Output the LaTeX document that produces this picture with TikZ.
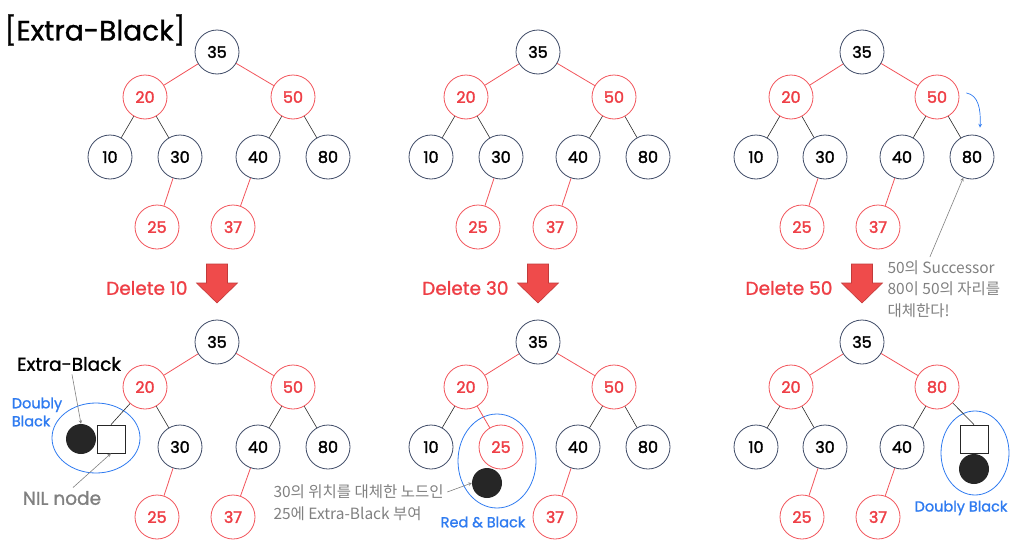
\documentclass[tikz,border=0pt]{standalone}
\usepackage{fontspec}
\setmainfont{Poppins}[FakeBold=1.2]
\newfontfamily\numfont{Poppins}[FakeBold=2]
\newfontfamily\krfont{Noto Sans CJK KR}
\usetikzlibrary{shapes.geometric}
\definecolor{navy}{HTML}{3E4A66}
\definecolor{nodered}{HTML}{F2545B}
\definecolor{txtred}{HTML}{EE3F46}
\definecolor{dblue}{HTML}{2F7BF0}
\definecolor{ngray}{HTML}{808080}
\definecolor{xblk}{HTML}{262626}
\definecolor{arrfill}{HTML}{EF4B4B}
\definecolor{arrdraw}{HTML}{C23A3A}

\begin{document}
\begin{tikzpicture}[x=1pt,y=-1pt,>=stealth,
    every node/.style={font=\fontsize{15.5}{18}\selectfont},
    bnode/.style={circle,draw=navy,line width=0.8pt,minimum size=44pt,inner sep=0pt,font=\numfont\fontsize{16}{18}\selectfont},
    rnode/.style={bnode,draw=nodered,text=txtred},
    nilnode/.style={rectangle,draw=xblk,line width=0.8pt,fill=white,minimum size=28pt,inner sep=0pt},
    xbnode/.style={circle,fill=xblk,minimum size=30pt,inner sep=0pt},
    dbl/.style={ellipse,draw=dblue,line width=0.8pt,inner sep=0pt},
    redge/.style={draw=nodered,line width=0.8pt},
    bedge/.style={draw=xblk,line width=0.6pt},
    bigarrow/.style={fill=arrfill,draw=arrdraw,line width=0.6pt},
    deltxt/.style={text=txtred,font=\fontsize{18.5}{20}\selectfont},
    bluetxt/.style={text=dblue,font=\fontsize{14.5}{18}\selectfont},
    note/.style={text=ngray,font=\krfont\fontsize{15.5}{21.5}\selectfont,align=left},
    grayarrow/.style={->,draw=ngray,line width=0.6pt}]
    \useasboundingbox (0,0) rectangle (1018,549);

    \node (title) at (95,30) {\fontsize{28}{30}\selectfont[Extra-Black]};

    % before delete
    \node[bnode] (a35) at (217,52) {35};
    \node[rnode] (a20) at (145,97) {20};
    \node[rnode] (a50) at (293,97) {50};
    \node[bnode] (a10) at (110,157) {10};
    \node[bnode] (a30) at (180,157) {30};
    \node[bnode] (a40) at (258,157) {40};
    \node[bnode] (a80) at (328,157) {80};
    \node[rnode] (a25) at (157,227) {25};
    \node[rnode] (a37) at (233,227) {37};

    \draw[redge] (a35)--(a20);
    \draw[redge] (a35)--(a50);
    \draw[bedge] (a20)--(a10);
    \draw[bedge] (a20)--(a30);
    \draw[bedge] (a50)--(a40);
    \draw[bedge] (a50)--(a80);
    \draw[redge] (a30)--(a25);
    \draw[redge] (a40)--(a37);

    \node[bnode] (b35) at (538,52) {35};
    \node[rnode] (b20) at (466,97) {20};
    \node[rnode] (b50) at (614,97) {50};
    \node[bnode] (b10) at (431,157) {10};
    \node[bnode] (b30) at (501,157) {30};
    \node[bnode] (b40) at (578,157) {40};
    \node[bnode] (b80) at (648,157) {80};
    \node[rnode] (b25) at (478,227) {25};
    \node[rnode] (b37) at (555,227) {37};

    \draw[redge] (b35)--(b20);
    \draw[redge] (b35)--(b50);
    \draw[bedge] (b20)--(b10);
    \draw[bedge] (b20)--(b30);
    \draw[bedge] (b50)--(b40);
    \draw[bedge] (b50)--(b80);
    \draw[redge] (b30)--(b25);
    \draw[redge] (b40)--(b37);

    \node[bnode] (c35) at (862,52) {35};
    \node[rnode] (c20) at (791,97) {20};
    \node[rnode] (c50) at (937,97) {50};
    \node[bnode] (c10) at (756,157) {10};
    \node[bnode] (c30) at (825,157) {30};
    \node[bnode] (c40) at (902,157) {40};
    \node[bnode] (c80) at (972,157) {80};
    \node[rnode] (c25) at (802,227) {25};
    \node[rnode] (c37) at (878,227) {37};

    \draw[redge] (c35)--(c20);
    \draw[redge] (c35)--(c50);
    \draw[bedge] (c20)--(c10);
    \draw[bedge] (c20)--(c30);
    \draw[bedge] (c50)--(c40);
    \draw[bedge] (c50)--(c80);
    \draw[redge] (c30)--(c25);
    \draw[redge] (c40)--(c37);

    \draw[->,draw=dblue,line width=0.7pt] ([xshift=7pt,yshift=4pt]c50.east) .. controls +(12,2) and +(1,-18) .. ([xshift=8pt,yshift=7pt]c80.north);
    \node[note,anchor=north west] (succ) at (884,257) {50의 Successor\\80이 50의 자리를\\대체한다!};
    \draw[grayarrow] ([xshift=-14pt]succ.north) -- (c80);

    % delete arrows
    \node[deltxt,anchor=east] (del1) at (191,288) {Delete 10};
    \node[deltxt,anchor=east] (del2) at (512,288) {Delete 30};
    \node[deltxt,anchor=east] (del3) at (836,288) {Delete 50};
    \draw[bigarrow,shift={(217,264)}] (-10.5,0) -- (10.5,0) -- (10.5,19) -- (20.5,19) -- (0,39) -- (-20.5,19) -- (-10.5,19) -- cycle;
    \draw[bigarrow,shift={(538,264)}] (-10.5,0) -- (10.5,0) -- (10.5,19) -- (20.5,19) -- (0,39) -- (-20.5,19) -- (-10.5,19) -- cycle;
    \draw[bigarrow,shift={(862,264)}] (-10.5,0) -- (10.5,0) -- (10.5,19) -- (20.5,19) -- (0,39) -- (-20.5,19) -- (-10.5,19) -- cycle;

    % after delete 10
    \node[dbl,minimum width=88pt,minimum height=70pt] (dring) at (96,438) {};
    \node[bnode] (d35) at (217,342) {35};
    \node[rnode] (d20) at (145,387) {20};
    \node[rnode] (d50) at (293,387) {50};
    \node[nilnode] (dnil) at (111,439) {};
    \node[xbnode] (dxb) at (81,439) {};
    \node[bnode] (d30) at (180,447) {30};
    \node[bnode] (d40) at (258,447) {40};
    \node[bnode] (d80) at (328,447) {80};
    \node[rnode] (d25) at (157,517) {25};
    \node[rnode] (d37) at (233,517) {37};

    \draw[redge] (d35)--(d20);
    \draw[redge] (d35)--(d50);
    \draw[bedge] (d20)--(dnil.north);
    \draw[bedge] (d20)--(d30);
    \draw[bedge] (d50)--(d40);
    \draw[bedge] (d50)--(d80);
    \draw[redge] (d30)--(d25);
    \draw[redge] (d40)--(d37);

    \node (xblbl) at (69,364) {\fontsize{18.5}{20}\selectfont Extra-Black};
    \node[bluetxt,align=left] (dbllbl) at (37,412) {Doubly\\Black};
    \node[text=ngray] (nillbl) at (62,498) {\fontsize{18.5}{20}\selectfont NIL node};
    \draw[grayarrow] ([xshift=3pt]xblbl.south) -- (dxb.north);
    \draw[grayarrow] ([xshift=11pt]nillbl.north) -- (dnil.south);

    % after delete 30
    \node[dbl,minimum width=78pt,minimum height=94pt] (ering) at (497,461) {};
    \node[bnode] (e35) at (538,342) {35};
    \node[rnode] (e20) at (466,387) {20};
    \node[rnode] (e50) at (614,387) {50};
    \node[bnode] (e10) at (431,447) {10};
    \node[rnode] (e25) at (501,447) {25};
    \node[bnode] (e40) at (578,447) {40};
    \node[bnode] (e80) at (648,447) {80};
    \node[rnode] (e37) at (555,517) {37};
    \node[xbnode] (exb) at (487,483) {};

    \draw[redge] (e35)--(e20);
    \draw[redge] (e35)--(e50);
    \draw[bedge] (e20)--(e10);
    \draw[redge] (e20)--(e25);
    \draw[bedge] (e50)--(e40);
    \draw[bedge] (e50)--(e80);
    \draw[redge] (e40)--(e37);

    \node[bluetxt] (rblbl) at (483,522) {Red \& Black};
    \node[note,anchor=west] (note1) at (270,492) {30의 위치를 대체한 노드인};
    \node[note,anchor=west] (note2) at (270,514) {25에 Extra-Black 부여};
    \draw[grayarrow] (note1.east) -- (exb.west);

    % after delete 50
    \node[dbl,minimum width=68pt,minimum height=84pt] (fring) at (975,453) {};
    \node[bnode] (f35) at (862,342) {35};
    \node[rnode] (f20) at (791,387) {20};
    \node[rnode] (f80) at (937,387) {80};
    \node[bnode] (f10) at (756,447) {10};
    \node[bnode] (f30) at (825,447) {30};
    \node[bnode] (f40) at (902,447) {40};
    \node[nilnode] (fnil) at (974,439) {};
    \node[xbnode] (fxb) at (974,469) {};
    \node[rnode] (f25) at (802,517) {25};
    \node[rnode] (f37) at (878,517) {37};

    \draw[redge] (f35)--(f20);
    \draw[redge] (f35)--(f80);
    \draw[bedge] (f20)--(f10);
    \draw[bedge] (f20)--(f30);
    \draw[bedge] (f80)--(f40);
    \draw[bedge] (f80)--(fnil.north);
    \draw[redge] (f30)--(f25);
    \draw[redge] (f40)--(f37);

    \node[bluetxt] (dbl2lbl) at (961,508) {Doubly Black};
\end{tikzpicture}
\end{document}
